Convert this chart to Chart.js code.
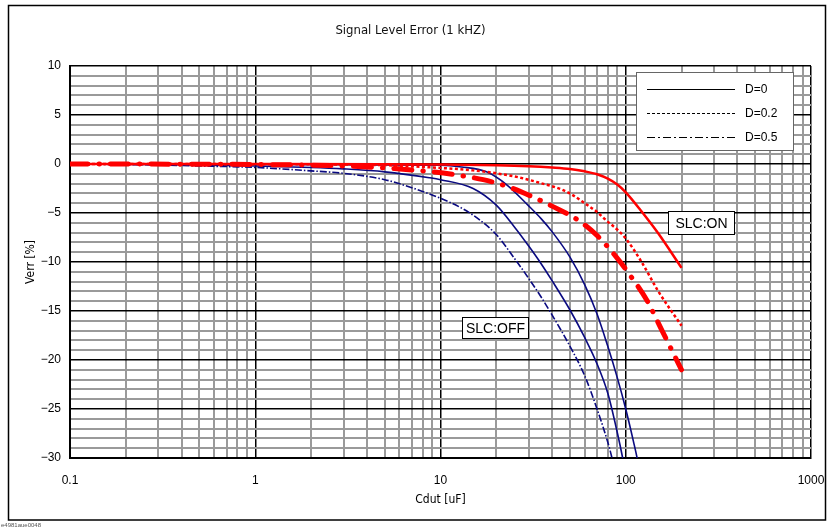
<!DOCTYPE html>
<html><head><meta charset="utf-8">
<script src="https://cdn.jsdelivr.net/npm/chart.js@4.4.1/dist/chart.umd.min.js"></script>
<style>html,body{margin:0;padding:0;background:#fff;}#wrap{width:830px;height:529px;position:relative;}</style>
</head><body><div id="wrap"><canvas id="c" width="830" height="529"></canvas></div>
<script>
const chartTitle = 'Signal Level Error (1 kHZ)';
const xAxisTitle = 'Cdut [uF]';
const yAxisTitle = 'Verr [%]';
const xDecadeLabels = ['0.1', '1', '10', '100', '1000'];
const yTickLabels = [10, 5, 0, -5, -10, -15, -20, -25, -30];
const legendLabels = ['D=0', 'D=0.2', 'D=0.5'];
const noteText = 'e4981aue0048';
const slcOnLabel = 'SLC:ON';
const slcOffLabel = 'SLC:OFF';

// SLC:ON (red)
const onD0_x  = [0.1, 1, 5, 10, 20, 30, 40, 50, 60, 70, 80, 90, 100, 120, 150, 200];
const onD0_y  = [0, 0, -0.02, -0.05, -0.12, -0.22, -0.35, -0.5, -0.75, -1.05, -1.5, -2.1, -2.9, -4.7, -7.1, -10.6];
const onD02_x = [0.1, 1, 3, 5, 10, 15, 20, 27, 34, 45, 52, 60, 70, 79, 90, 100, 120, 150, 200];
const onD02_y = [0, -0.02, -0.06, -0.12, -0.4, -0.65, -0.95, -1.4, -1.9, -2.6, -3.2, -4.0, -4.9, -5.8, -6.7, -7.6, -9.8, -13.0, -16.5];
const onD05_x = [0.1, 1, 3, 5, 9, 12, 17, 23, 31, 40, 56, 70, 89, 105, 130, 157, 200];
const onD05_y = [0, -0.05, -0.2, -0.4, -0.8, -1.1, -1.6, -2.3, -3.3, -4.3, -5.8, -7.3, -9.5, -11.3, -13.9, -17.0, -21.0];

// SLC:OFF (blue)
const offD0_x  = [0.1, 1, 3, 5, 10, 13, 17.7, 22.7, 30, 35, 40, 50, 60, 70, 80, 90, 100, 110, 116, 125];
const offD0_y  = [0, -0.05, -0.08, -0.1, -0.12, -0.3, -0.8, -2.1, -4.3, -5.6, -6.9, -9.5, -12.3, -15.3, -18.6, -21.8, -25.0, -28.3, -30.3, -34];
const offD02_x = [0.1, 0.3, 1, 2, 3, 5, 8.7, 10, 15, 20, 25, 30, 35, 40, 50, 60, 70, 80, 90, 96, 105];
const offD02_y = [0, -0.05, -0.2, -0.35, -0.5, -0.8, -1.4, -1.6, -2.5, -4.2, -6.4, -8.4, -10.2, -11.9, -14.9, -17.7, -20.4, -23.4, -27.4, -29.9, -34];
const offD05_x = [0.1, 0.3, 0.5, 1, 2, 3, 5, 8, 10, 13, 16, 20, 25, 30, 35, 40, 50, 60, 70, 80, 84, 92];
const offD05_y = [0, -0.1, -0.2, -0.35, -0.7, -0.95, -1.6, -2.8, -3.5, -4.5, -5.6, -7.2, -9.6, -11.7, -13.6, -15.4, -18.6, -21.6, -25.0, -28.4, -29.9, -33.5];

const pts = (xs, ys) => xs.map((x, i) => ({x: x, y: ys[i]}));

const RED = '#ff0000';
const BLUE = '#0a0a80';
const NARROW = '"Liberation Sans Narrow", "DejaVu Sans Condensed", "Liberation Sans", Arial, sans-serif';
const SANS = '"Liberation Sans", Arial, sans-serif';

// grid positions of the log axis (1..9 x each decade)
const xGridValues = [];
[-1, 0, 1, 2].forEach(e => { for (let m = 1; m <= 9; m++) xGridValues.push(+(m * Math.pow(10, e)).toPrecision(3)); });
xGridValues.push(1000);
const isDecade = v => Math.abs(Math.log10(v) - Math.round(Math.log10(v))) < 1e-9;

const base = {pointRadius: 0, pointHoverRadius: 0, fill: false, cubicInterpolationMode: 'monotone', borderJoinStyle: 'round'};

const datasets = [
  Object.assign({}, base, {label: 'ON D=0', data: pts(onD0_x, onD0_y), borderColor: RED, borderWidth: 2.5}),
  Object.assign({}, base, {label: 'ON D=0.2', data: pts(onD02_x, onD02_y), borderColor: RED, borderWidth: 2.5, borderDash: [3, 2.5]}),
  Object.assign({}, base, {label: 'ON D=0.5', data: pts(onD05_x, onD05_y), borderColor: RED, borderWidth: 5, borderDash: [18, 11, 0.5, 11], borderCapStyle: 'round'}),
  Object.assign({}, base, {label: 'OFF D=0', data: pts(offD0_x, offD0_y), borderColor: BLUE, borderWidth: 1.6}),
  Object.assign({}, base, {label: 'OFF D=0.2', data: pts(offD02_x, offD02_y), borderColor: BLUE, borderWidth: 1.6}),
  Object.assign({}, base, {label: 'OFF D=0.5', data: pts(offD05_x, offD05_y), borderColor: BLUE, borderWidth: 1.6, borderDash: [7, 2, 1.5, 2]})
];

const decor = {
  id: 'decor',
  beforeDraw(chart) {
    const ctx = chart.ctx;
    ctx.save();
    ctx.fillStyle = '#fff';
    ctx.fillRect(0, 0, chart.width, chart.height);
    ctx.strokeStyle = '#000';
    ctx.lineWidth = 1.5;
    ctx.strokeRect(8.5, 5.5, 817, 514.5);
    ctx.fillStyle = '#555';
    ctx.font = '6px ' + SANS;
    ctx.textBaseline = 'middle';
    ctx.textAlign = 'left';
    ctx.fillText(noteText, 1, 525);
    ctx.restore();
  },
  afterDatasetsDraw(chart) {
    const ctx = chart.ctx;
    const a = chart.chartArea;
    const xs = chart.scales.x, ys = chart.scales.y;
    ctx.save();
    // legend box
    const lx = a.right - 175, ly = a.top + 6, lw = 157, lh = 78;
    ctx.fillStyle = '#fff';
    ctx.fillRect(lx, ly, lw, lh);
    ctx.strokeStyle = '#666';
    ctx.lineWidth = 1;
    ctx.strokeRect(lx + 0.5, ly + 0.5, lw, lh);
    const dashes = [[], [3, 2], [8, 3, 2, 3]];
    legendLabels.forEach((t, i) => {
      const yy = ly + 17 + i * 24;
      ctx.strokeStyle = '#000';
      ctx.lineWidth = 1;
      ctx.setLineDash(dashes[i]);
      ctx.beginPath();
      ctx.moveTo(lx + 11, yy + 0.5);
      ctx.lineTo(lx + 99, yy + 0.5);
      ctx.stroke();
      ctx.setLineDash([]);
      ctx.fillStyle = '#000';
      ctx.font = '12px ' + SANS;
      ctx.textAlign = 'left';
      ctx.textBaseline = 'middle';
      ctx.fillText(t, lx + 109, yy + 1);
    });
    // SLC labels anchored on data coordinates
    const box = (text, xv, yv, w, h) => {
      const px = Math.round(xs.getPixelForValue(xv)) + 0.5;
      const py = Math.round(ys.getPixelForValue(yv)) + 0.5;
      ctx.fillStyle = '#fff';
      ctx.fillRect(px, py, w, h);
      ctx.strokeStyle = '#000';
      ctx.lineWidth = 1;
      ctx.strokeRect(px, py, w, h);
      ctx.fillStyle = '#000';
      ctx.font = '14px ' + SANS;
      ctx.textAlign = 'center';
      ctx.textBaseline = 'middle';
      ctx.fillText(text, px + w / 2, py + h / 2 + 1);
    };
    box(slcOnLabel, 170, -4.8, 66, 23);
    box(slcOffLabel, 13.1, -15.6, 66, 21);
    ctx.restore();
  }
};

new Chart(document.getElementById('c'), {
  type: 'line',
  data: {datasets: datasets},
  options: {
    responsive: false,
    animation: false,
    events: [],
    layout: {padding: {left: 10, right: 19, top: 5, bottom: 10}},
    plugins: {
      legend: {display: false},
      tooltip: {enabled: false},
      title: {display: true, text: chartTitle, color: '#111', font: {family: NARROW, size: 13, weight: 'normal'}, padding: {top: 17.5, bottom: 27.9}}
    },
    scales: {
      x: {
        type: 'logarithmic', min: 0.1, max: 1000,
        afterBuildTicks: (axis) => { axis.ticks = xGridValues.map(v => ({value: v})); },
        afterFit: (axis) => { axis.height = 61; axis.paddingLeft = 0; axis.paddingRight = 0; },
        border: {display: true, color: '#000', width: 2},
        grid: {
          drawTicks: false,
          color: (c) => (c.tick && isDecade(c.tick.value)) ? '#000' : '#9a9a9a',
          lineWidth: (c) => (c.tick && isDecade(c.tick.value)) ? 1.5 : 2
        },
        ticks: {
          autoSkip: false, maxRotation: 0, padding: 15, color: '#000', font: {family: SANS, size: 12},
          callback: (v) => { const s = String(+(+v).toPrecision(3)); return xDecadeLabels.includes(s) ? s : ''; }
        },
        title: {display: true, text: xAxisTitle, color: '#000', font: {family: NARROW, size: 12}, padding: {top: 0, bottom: 12}}
      },
      y: {
        type: 'linear', min: -30, max: 10,
        afterFit: (axis) => { axis.width = 60; },
        border: {display: true, color: '#000', width: 2},
        grid: {
          drawTicks: false,
          color: (c) => (c.tick && c.tick.value % 5 === 0) ? '#000' : '#9a9a9a',
          lineWidth: (c) => (c.tick && c.tick.value % 5 === 0) ? 1.5 : 2
        },
        ticks: {
          stepSize: 1, autoSkip: false, padding: 9, color: '#000', font: {family: SANS, size: 12},
          callback: (v) => yTickLabels.includes(v) ? String(v).replace('-', '\u2212') : ''
        },
        title: {display: true, text: yAxisTitle, color: '#000', font: {family: NARROW, size: 12}, padding: {top: 14, bottom: 0}}
      }
    }
  },
  plugins: [decor]
});
</script>
</body></html>
